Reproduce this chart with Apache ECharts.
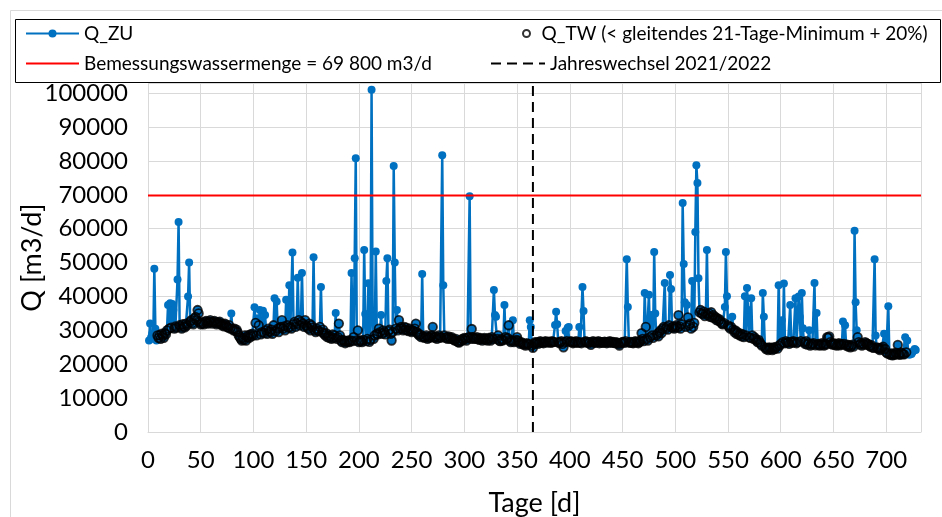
<!DOCTYPE html>
<html>
<head>
<meta charset="utf-8">
<script src="https://cdn.jsdelivr.net/npm/echarts@6/dist/echarts.min.js"></script>
<style>
  html, body { margin: 0; padding: 0; background: #fff; }
  #chart { width: 942px; height: 517px; }
</style>
</head>
<body>
<div id="chart"></div>
<script>
// Tageswerte Zulauf Q_ZU [m3/d], Tag 1..728
const qZU = [
  27000, 32000, 28000, 29000, 27500, 48200, 30500, 27000, 28500, 27800,
  28600, 27500, 29000, 28400, 27800, 29200, 28800, 30000, 37500, 30500,
  38000, 30800, 37800, 36000, 30500, 31200, 30800, 45000, 62000, 31500,
  31000, 30500, 31800, 31200, 30900, 32000, 31500, 40000, 50000, 32500,
  33000, 32200, 31800, 33500, 34000, 33000, 36000, 35000, 32500, 31800,
  32000, 32300, 31800, 32500, 32800, 32200, 32000, 32600, 33000, 32400,
  32000, 32500, 32800, 32200, 31800, 32400, 32100, 32600, 32000, 31500,
  31800, 31200, 32000, 31500, 31000, 30800, 31500, 30500, 35000, 30500,
  30000, 30500, 29800, 30200, 29500, 28500, 28000, 27500, 27000, 27800,
  27200, 28500, 27000, 28000, 28500, 27800, 28800, 28200, 29000, 28500,
  36800, 32200, 28500, 33600, 31500, 36000, 28800, 29500, 35800, 29200,
  34500, 30000, 29000, 30500, 29800, 29500, 30200, 29000, 31500, 39500,
  29800, 38500, 30500, 29500, 30800, 31000, 33000, 30500, 31200, 30000,
  39000, 31500, 30800, 43300, 31000, 30500, 53000, 31800, 32500, 31000,
  32000, 45500, 33000, 31500, 32500, 46900, 32000, 31000, 33000, 31500,
  31000, 30500, 32000, 30000, 31500, 30800, 51600, 30000, 29500, 30500,
  30000, 29800, 31000, 42800, 29500, 30200, 29000, 28500, 29200, 28000,
  28500, 27800, 28200, 27500, 28800, 27800, 28500, 35100, 27500, 28000,
  32000, 28500, 27000, 26500, 27200, 26800, 26200, 26800, 26500, 27000,
  26500, 27000, 46900, 26800, 28000, 51300, 80800, 27000, 30000, 26500,
  27000, 26800, 26500, 27200, 53700, 34800, 26800, 27500, 43900, 26600,
  27200, 101000, 34000, 27500, 28500, 53300, 29000, 28800, 30500, 29500,
  34500, 29000, 30000, 29500, 28800, 44600, 51300, 29800, 30200, 29000,
  27000, 29500, 78500, 50000, 30500, 36000, 30000, 33000, 30500, 31000,
  30500, 30000, 31000, 30200, 30800, 30000, 29800, 30500, 30000, 29500,
  30000, 29800, 30500, 32000, 29500, 29000, 28500, 28800, 28000, 46600,
  28200, 27800, 28000, 28500, 27500, 28000, 27800, 28200, 28500, 31000,
  28000, 27800, 28200, 27500, 28000, 28500, 27800, 28000, 81700, 43300,
  28500, 27800, 28000, 27500, 28200, 27800, 27500, 28000, 27500, 27200,
  27000, 27500, 26800, 26500, 26400, 27000, 26800, 27500, 27200, 27800,
  27500, 27000, 27800, 28000, 69600, 27500, 30400, 28000, 27500, 27800,
  27500, 28000, 27500, 27200, 27800, 27500, 27000, 27500, 27800, 27200,
  27500, 27000, 27800, 27500, 27000, 28000, 27500, 41900, 34500, 34000,
  27500, 28500, 27000, 26800, 27500, 27000, 27200, 37500, 28000, 27500,
  27800, 31500, 27000, 26500, 27000, 33000, 26500, 26800, 27200, 28000,
  27000, 26500, 26000, 26500, 26200, 25800, 26000, 25500, 26200, 25800,
  26000, 33000, 31000, 25500, 24800, 26000, 26500, 26200, 26500, 26000,
  26500, 26800, 26300, 26500, 26200, 26600, 26800, 26400, 26500, 26700,
  26500, 26300, 26800, 26500, 26600, 31600, 35500, 31800, 26500, 26200,
  26500, 26800, 26000, 25000, 26500, 29800, 26800, 30800, 31000, 26500,
  26800, 26500, 26200, 26600, 26400, 26800, 26500, 26300, 31000, 26500,
  26200, 42800, 35700, 26500, 26800, 26400, 26600, 26200, 26500, 25700,
  26500, 26800, 26300, 26600, 26400, 26500, 26800, 26200, 26600, 26400,
  26500, 26300, 26700, 26500, 26200, 26600, 26400, 26800, 26500, 26300,
  26600, 26400, 26200, 26500, 26300, 26000, 25500, 26200, 26400, 26600,
  26500, 26300, 26800, 51000, 36900, 26500, 26300, 26600, 26400, 26200,
  26500, 26800, 26400, 26600, 26200, 26500, 27000, 29200, 27500, 26800,
  41000, 31000, 27500, 27000, 40500, 28000, 34500, 28500, 27800, 53100,
  35000, 28500, 29000, 28200, 29500, 30000, 29200, 30500, 31000, 44000,
  30500, 31000, 30200, 31500, 46300, 42200, 30800, 31200, 30500, 31000,
  31500, 30800, 34500, 31200, 30500, 31800, 67600, 49600, 38300, 31000,
  37500, 33800, 31500, 32000, 30500, 44600, 31000, 32200, 59000, 78700,
  73500, 45400, 35300, 36000, 35000, 34800, 35500, 34200, 35000, 53700,
  34500, 35000, 34000, 35400, 33800, 34500, 33600, 34000, 33000, 33500,
  32800, 33200, 32500, 32000, 31800, 32200, 36900, 53100, 40100, 31500,
  31000, 30500, 31000, 34000, 30200, 29500, 30000, 29000, 29500, 28800,
  28500, 29000, 28200, 28800, 28000, 40100, 28500, 42500, 36000, 28000,
  27800, 39500, 28500, 27500, 28000, 27500, 27000, 26500, 27200, 26500,
  26000, 25500, 41000, 34000, 25000, 24500, 24800, 24200, 25000, 24500,
  24800, 24200, 25000, 24500, 24800, 25200, 24600, 43300, 25500, 26000,
  33000, 26500, 43800, 26200, 26800, 26400, 26500, 26000, 37500, 26600,
  26300, 26800, 26500, 39500, 26200, 26500, 40000, 34000, 26800, 41000,
  30600, 26500, 26000, 26800, 25800, 26200, 30000, 25500, 26000, 25800,
  26200, 44000, 25600, 35100, 25800, 26000, 25500, 25700, 26200, 25800,
  25500, 26000, 25800, 28000, 27800, 28200, 26500, 26000, 25800, 26200,
  25700, 26000, 25500, 25800, 26200, 25600, 26000, 25800, 32600, 26000,
  31500, 25500, 25800, 25200, 25600, 25000, 25400, 25800, 25200, 59400,
  38300, 30000, 28000, 26500, 25800, 26200, 25500, 26000, 25800, 26500,
  26200, 25800, 26000, 25500, 25200, 25600, 25000, 24800, 51000, 28500,
  25000, 24600, 24800, 24200, 24500, 24800, 25200, 29000, 24500, 23500,
  23200, 37100, 23000, 22800, 23200, 22600, 23000, 22800, 23400, 23000,
  25700, 23000, 22800, 23500, 23200, 23000, 22900, 28000, 23500, 27000,
  23200, 22800, 23500, 23000, 23600, 24000, 24500, 24200
];

// Trockenwettertage Q_TW [m3/d] (null = kein TW-Tag)
const qTW = [
  null, null, null, null, null, null, null, null, 28500, 27800,
  28600, 27500, 29000, 28400, 27800, 29200, 28800, 30000, null, 30500,
  null, 30800, null, null, 30500, 31200, 30800, null, null, 31500,
  31000, 30500, 31800, 31200, 30900, 32000, 31500, null, null, 32500,
  33000, 32200, 31800, 33500, 34000, 33000, 36000, 35000, 32500, 31800,
  32000, 32300, 31800, 32500, 32800, 32200, 32000, 32600, 33000, 32400,
  32000, 32500, 32800, 32200, 31800, 32400, 32100, 32600, 32000, 31500,
  31800, 31200, 32000, 31500, 31000, 30800, 31500, 30500, null, 30500,
  30000, 30500, 29800, 30200, 29500, 28500, 28000, 27500, 27000, 27800,
  27200, 28500, 27000, 28000, 28500, 27800, 28800, 28200, 29000, 28500,
  null, 32200, 28500, null, 31500, null, 28800, 29500, null, 29200,
  null, 30000, 29000, 30500, 29800, 29500, 30200, 29000, 31500, null,
  29800, null, 30500, 29500, 30800, 31000, 33000, 30500, 31200, 30000,
  null, 31500, 30800, null, 31000, 30500, null, 31800, 32500, 31000,
  32000, null, 33000, 31500, 32500, null, 32000, 31000, 33000, 31500,
  31000, 30500, 32000, 30000, 31500, 30800, null, 30000, 29500, 30500,
  30000, 29800, 31000, null, 29500, 30200, 29000, 28500, 29200, 28000,
  28500, 27800, 28200, 27500, 28800, 27800, 28500, null, 27500, 28000,
  32000, 28500, 27000, 26500, 27200, 26800, 26200, 26800, 26500, 27000,
  26500, 27000, null, 26800, 28000, null, null, 27000, 30000, 26500,
  27000, 26800, 26500, 27200, null, null, 26800, 27500, null, 26600,
  27200, null, null, 27500, 28500, null, 29000, 28800, 30500, 29500,
  null, 29000, 30000, 29500, 28800, null, null, 29800, 30200, 29000,
  27000, 29500, null, null, 30500, null, 30000, 33000, 30500, 31000,
  30500, 30000, 31000, 30200, 30800, 30000, 29800, 30500, 30000, 29500,
  30000, 29800, 30500, 32000, 29500, 29000, 28500, 28800, 28000, null,
  28200, 27800, 28000, 28500, 27500, 28000, 27800, 28200, 28500, 31000,
  28000, 27800, 28200, 27500, 28000, 28500, 27800, 28000, null, null,
  28500, 27800, 28000, 27500, 28200, 27800, 27500, 28000, 27500, 27200,
  27000, 27500, 26800, 26500, 26400, 27000, 26800, 27500, 27200, 27800,
  27500, 27000, 27800, 28000, null, 27500, 30400, 28000, 27500, 27800,
  27500, 28000, 27500, 27200, 27800, 27500, 27000, 27500, 27800, 27200,
  27500, 27000, 27800, 27500, 27000, 28000, 27500, null, null, null,
  27500, 28500, 27000, 26800, 27500, 27000, 27200, null, 28000, 27500,
  27800, 31500, 27000, 26500, 27000, null, 26500, 26800, 27200, 28000,
  27000, 26500, 26000, 26500, 26200, 25800, 26000, 25500, 26200, 25800,
  26000, null, null, 25500, 24800, 26000, 26500, 26200, 26500, 26000,
  26500, 26800, 26300, 26500, 26200, 26600, 26800, 26400, 26500, 26700,
  26500, 26300, 26800, 26500, 26600, null, null, null, 26500, 26200,
  26500, 26800, 26000, 25000, 26500, null, 26800, null, null, 26500,
  26800, 26500, 26200, 26600, 26400, 26800, 26500, 26300, null, 26500,
  26200, null, null, 26500, 26800, 26400, 26600, 26200, 26500, 25700,
  26500, 26800, 26300, 26600, 26400, 26500, 26800, 26200, 26600, 26400,
  26500, 26300, 26700, 26500, 26200, 26600, 26400, 26800, 26500, 26300,
  26600, 26400, 26200, 26500, 26300, 26000, 25500, 26200, 26400, 26600,
  26500, 26300, 26800, null, null, 26500, 26300, 26600, 26400, 26200,
  26500, 26800, 26400, 26600, 26200, 26500, 27000, 29200, 27500, 26800,
  null, 31000, 27500, 27000, null, 28000, null, 28500, 27800, null,
  null, 28500, 29000, 28200, 29500, 30000, 29200, 30500, 31000, null,
  30500, 31000, 30200, 31500, null, null, 30800, 31200, 30500, 31000,
  31500, 30800, 34500, 31200, 30500, 31800, null, null, null, 31000,
  null, 33800, 31500, 32000, 30500, null, 31000, 32200, null, null,
  null, null, 35300, 36000, 35000, 34800, 35500, 34200, 35000, null,
  34500, 35000, 34000, 35400, 33800, 34500, 33600, 34000, 33000, 33500,
  32800, 33200, 32500, 32000, 31800, 32200, null, null, null, 31500,
  31000, 30500, 31000, null, 30200, 29500, 30000, 29000, 29500, 28800,
  28500, 29000, 28200, 28800, 28000, null, 28500, null, null, 28000,
  27800, null, 28500, 27500, 28000, 27500, 27000, 26500, 27200, 26500,
  26000, 25500, null, null, 25000, 24500, 24800, 24200, 25000, 24500,
  24800, 24200, 25000, 24500, 24800, 25200, 24600, null, 25500, 26000,
  null, 26500, null, 26200, 26800, 26400, 26500, 26000, null, 26600,
  26300, 26800, 26500, null, 26200, 26500, null, null, 26800, null,
  null, 26500, 26000, 26800, 25800, 26200, null, 25500, 26000, 25800,
  26200, null, 25600, null, 25800, 26000, 25500, 25700, 26200, 25800,
  25500, 26000, 25800, 28000, 27800, 28200, 26500, 26000, 25800, 26200,
  25700, 26000, 25500, 25800, 26200, 25600, 26000, 25800, null, 26000,
  null, 25500, 25800, 25200, 25600, 25000, 25400, 25800, 25200, null,
  null, null, 28000, 26500, 25800, 26200, 25500, 26000, 25800, 26500,
  26200, 25800, 26000, 25500, 25200, 25600, 25000, 24800, null, null,
  25000, 24600, 24800, 24200, 24500, 24800, 25200, null, 24500, 23500,
  23200, null, 23000, 22800, 23200, 22600, 23000, 22800, 23400, 23000,
  25700, 23000, 22800, 23500, 23200, 23000, 22900, null, 23500, null,
  null, null, null, null, null, null, null, null
];

const designFlow = 69800;     // Bemessungswassermenge
const yearChangeDay = 365;    // Jahreswechsel 2021/2022
const xMax = 733;
const yMax = 103000;

const names = {
  zu: 'Q_ZU',
  tw: 'Q_TW (< gleitendes 21-Tage-Minimum + 20%)',
  bem: 'Bemessungswassermenge = 69 800 m3/d',
  jw: 'Jahreswechsel 2021/2022'
};

const font = 'Lato, "Open Sans", sans-serif';
const chart = echarts.init(document.getElementById('chart'));

const legendBase = {
  orient: 'horizontal',
  padding: 0,
  z: 10,
  itemGap: 0,
  textStyle: { fontFamily: font, fontSize: 19, color: '#000' }
};

chart.setOption({
  animation: false,
  backgroundColor: '#fff',
  textStyle: { fontFamily: font },
  grid: { left: 148, right: 21, top: 83, bottom: 85, outerBoundsMode: 'none', containLabel: false },
  graphic: [
    // Diagrammrahmen
    { type: 'rect', z: 0, shape: { x: 10.5, y: 10.5, width: 960, height: 540 },
      style: { fill: null, stroke: '#d9d9d9', lineWidth: 1 } },
    // Legendenrahmen
    { type: 'rect', z: 6, shape: { x: 15.5, y: 19.5, width: 925, height: 63 },
      style: { fill: '#fff', stroke: '#000', lineWidth: 1 } }
  ],
  legend: [
    Object.assign({}, legendBase, { data: [names.zu], left: 25, top: 24, itemWidth: 53, itemHeight: 10 }),
    Object.assign({}, legendBase, { data: [names.tw], left: 522, top: 24, itemWidth: 20, itemHeight: 7 }),
    Object.assign({}, legendBase, { data: [names.bem], left: 25, top: 54, itemWidth: 53, itemHeight: 10,
      itemStyle: { opacity: 0 } }),
    Object.assign({}, legendBase, { data: [names.jw], left: 490, top: 54, itemWidth: 54, itemHeight: 10,
      itemStyle: { opacity: 0 } })
  ],
  xAxis: {
    type: 'value',
    min: 0,
    max: xMax,
    interval: 50,
    name: 'Tage [d]',
    nameLocation: 'middle',
    nameGap: 58,
    nameMoveOverlap: false,
    nameTextStyle: { fontFamily: font, fontSize: 27, color: '#000' },
    axisLine: { show: true, lineStyle: { color: '#d9d9d9' } },
    axisTick: { show: false },
    axisLabel: { fontFamily: font, fontSize: 24, color: '#000', margin: 16, showMaxLabel: false },
    splitLine: { show: true, lineStyle: { color: '#d9d9d9', width: 1 } }
  },
  yAxis: {
    type: 'value',
    min: 0,
    max: yMax,
    interval: 10000,
    name: 'Q [m3/d]',
    nameLocation: 'middle',
    nameGap: 102,
    nameMoveOverlap: false,
    nameTextStyle: { fontFamily: font, fontSize: 27, color: '#000' },
    axisLine: { show: false },
    axisTick: { show: false },
    axisLabel: { fontFamily: font, fontSize: 24, color: '#000', margin: 20, showMaxLabel: false,
      formatter: v => String(v) },
    splitLine: { show: true, lineStyle: { color: '#d9d9d9', width: 1 } }
  },
  series: [
    {
      name: names.zu,
      type: 'line',
      z: 2,
      data: qZU.map((v, i) => [i + 1, v]),
      symbol: 'circle',
      symbolSize: 8,
      showAllSymbol: true,
      color: '#0070C0',
      itemStyle: { color: '#0070C0' },
      lineStyle: { color: '#0070C0', width: 2.5 }
    },
    {
      name: names.tw,
      type: 'scatter',
      z: 3,
      data: qTW.map((v, i) => [i + 1, v]).filter(d => d[1] !== null),
      symbol: 'circle',
      symbolSize: 8.5,
      itemStyle: { color: 'rgba(0,0,0,0)', borderColor: '#000', borderWidth: 1.8 }
    },
    {
      name: names.bem,
      type: 'line',
      z: 4,
      symbol: 'none',
      data: [[0, designFlow], [xMax, designFlow]],
      color: '#FF0000',
      lineStyle: { color: '#FF0000', width: 2 }
    },
    {
      name: names.jw,
      type: 'line',
      z: 4,
      symbol: 'none',
      data: [[yearChangeDay, 0], [yearChangeDay, yMax]],
      color: '#000',
      lineStyle: { color: '#000', width: 2, type: [10, 6] }
    }
  ]
});
</script>
</body>
</html>
